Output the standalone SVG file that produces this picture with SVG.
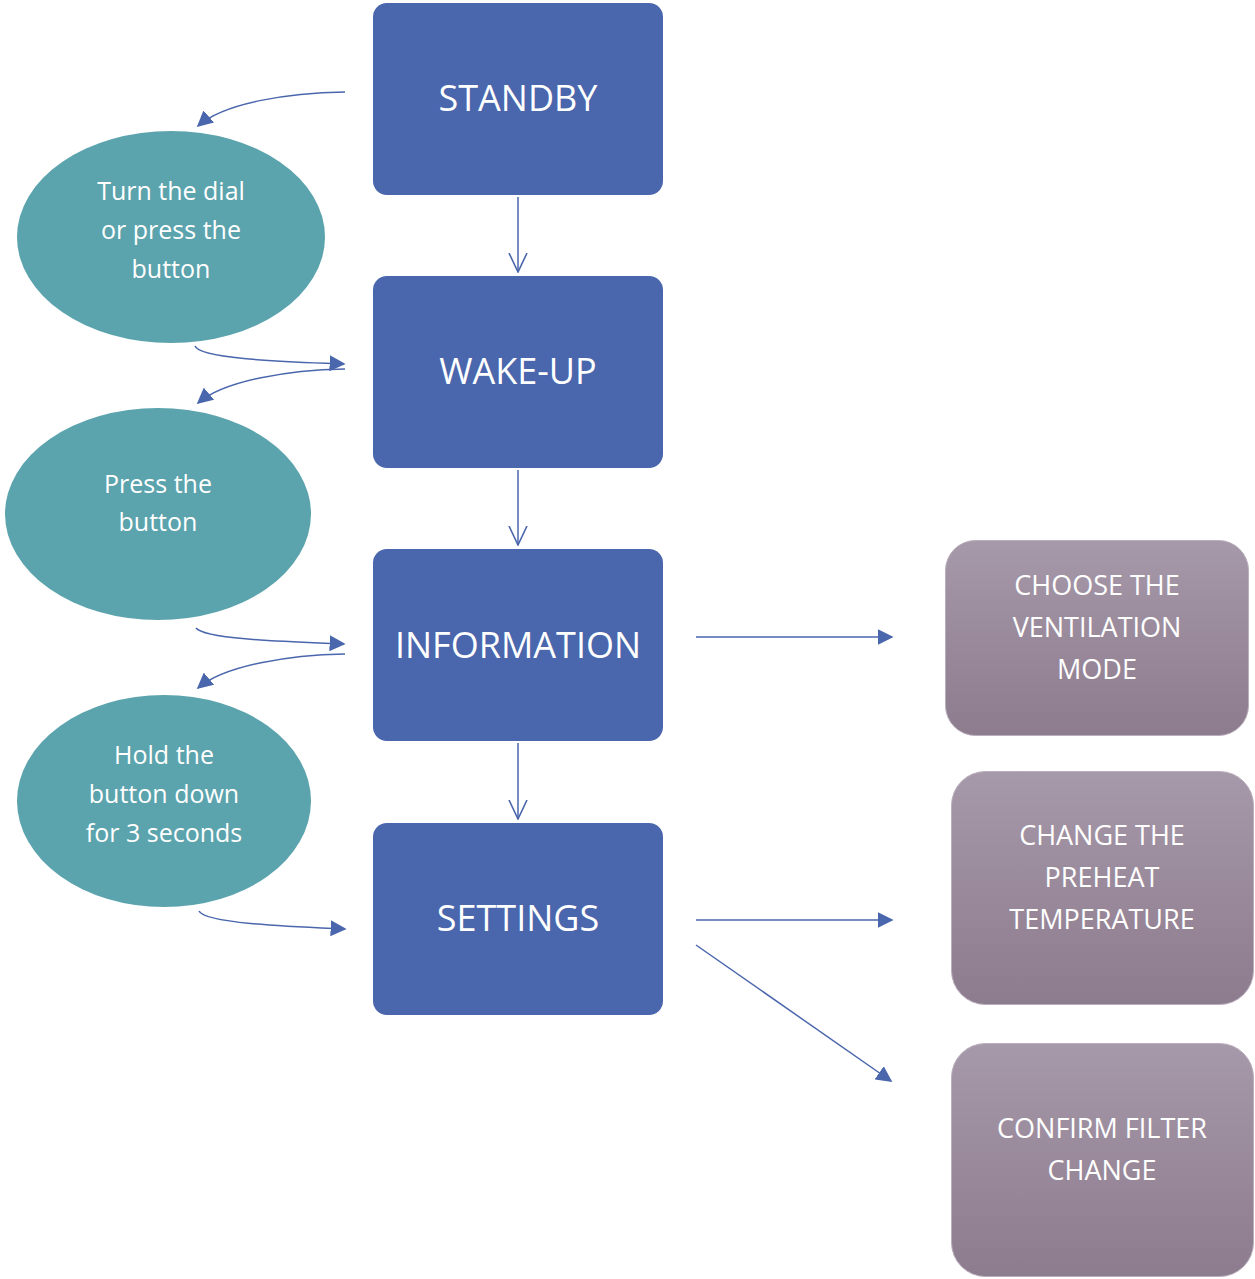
<svg xmlns="http://www.w3.org/2000/svg" width="1255" height="1279" viewBox="0 0 1255 1279">
<defs>
<linearGradient id="pg" x1="0" y1="0" x2="0" y2="1">
<stop offset="0" stop-color="#A699A9"/>
<stop offset="1" stop-color="#8D7B8E"/>
</linearGradient>
<marker id="tri2" viewBox="0 0 10 10" refX="9" refY="5" markerWidth="16" markerHeight="16" markerUnits="userSpaceOnUse" orient="auto">
<path d="M0,0 L10,5 L0,10 z" fill="#4A66AC"/>
</marker>
<marker id="vee" viewBox="0 0 10 10" refX="9.5" refY="5" markerWidth="20" markerHeight="20" markerUnits="userSpaceOnUse" orient="auto">
<path d="M0,0.5 L9.5,5 L0,9.5" fill="none" stroke="#4A66AC" stroke-width="0.8"/>
</marker>
</defs>
<style>
.blue{fill:#4A66AC}
.teal{fill:#5BA3AD}
.purp{fill:url(#pg);stroke:#B9AEBB;stroke-width:1}
text{font-family:"Open Sans","Noto Sans","Liberation Sans",sans-serif;fill:#FFFFFF;text-anchor:middle}
.big{font-size:36px}
.sm{font-size:25px}
.md{font-size:27px}
.c{fill:none;stroke:#4A66AC;stroke-width:1.5}
</style>
<g id="connectors">
<path class="c" d="M518,197 L518,272" marker-end="url(#vee)"/>
<path class="c" d="M518,470 L518,545" marker-end="url(#vee)"/>
<path class="c" d="M518,743 L518,819" marker-end="url(#vee)"/>
<path class="c" d="M345,92 C290,93 225,102 198,126" marker-end="url(#tri2)"/>
<path class="c" d="M195,346 C200,360 300,362 344,364" marker-end="url(#tri2)"/>
<path class="c" d="M345,369 C290,370 225,380 198,403" marker-end="url(#tri2)"/>
<path class="c" d="M196,628 C205,640 300,642 344,644" marker-end="url(#tri2)"/>
<path class="c" d="M345,654 C290,655 225,665 198,688" marker-end="url(#tri2)"/>
<path class="c" d="M199,911 C205,924 300,927 345,929" marker-end="url(#tri2)"/>
<path class="c" d="M696,637 L892,637" marker-end="url(#tri2)"/>
<path class="c" d="M696,920 L892,920" marker-end="url(#tri2)"/>
<path class="c" d="M696,945 L891,1081" marker-end="url(#tri2)"/>
</g>
<g id="standby"><rect class="blue" x="373" y="3" width="290" height="192" rx="14"/><text class="big" x="518" y="111">STANDBY</text></g>
<g id="wakeup"><rect class="blue" x="373" y="276" width="290" height="192" rx="14"/><text class="big" x="518" y="384">WAKE-UP</text></g>
<g id="information"><rect class="blue" x="373" y="549" width="290" height="192" rx="14"/><text class="big" x="518" y="658">INFORMATION</text></g>
<g id="settings"><rect class="blue" x="373" y="823" width="290" height="192" rx="14"/><text class="big" x="518" y="931">SETTINGS</text></g>
<g id="e1"><ellipse class="teal" cx="171" cy="237" rx="154" ry="106"/><text class="sm" x="171" y="200">Turn the dial</text><text class="sm" x="171" y="239">or press the</text><text class="sm" x="171" y="278">button</text></g>
<g id="e2"><ellipse class="teal" cx="158" cy="514" rx="153" ry="106"/><text class="sm" x="158" y="493">Press the</text><text class="sm" x="158" y="531">button</text></g>
<g id="e3"><ellipse class="teal" cx="164" cy="801" rx="147" ry="106"/><text class="sm" x="164" y="764">Hold the</text><text class="sm" x="164" y="803">button down</text><text class="sm" x="164" y="842">for 3 seconds</text></g>
<g id="p1"><rect class="purp" x="945.5" y="540.5" width="303" height="195" rx="30"/><text class="md" x="1097" y="595">CHOOSE THE</text><text class="md" x="1097" y="637">VENTILATION</text><text class="md" x="1097" y="679">MODE</text></g>
<g id="p2"><rect class="purp" x="951.5" y="771.5" width="302" height="233" rx="34"/><text class="md" x="1102" y="845">CHANGE THE</text><text class="md" x="1102" y="887">PREHEAT</text><text class="md" x="1102" y="929">TEMPERATURE</text></g>
<g id="p3"><rect class="purp" x="951.5" y="1043.5" width="302" height="233" rx="34"/><text class="md" x="1102" y="1138">CONFIRM FILTER</text><text class="md" x="1102" y="1180">CHANGE</text></g>
</svg>
